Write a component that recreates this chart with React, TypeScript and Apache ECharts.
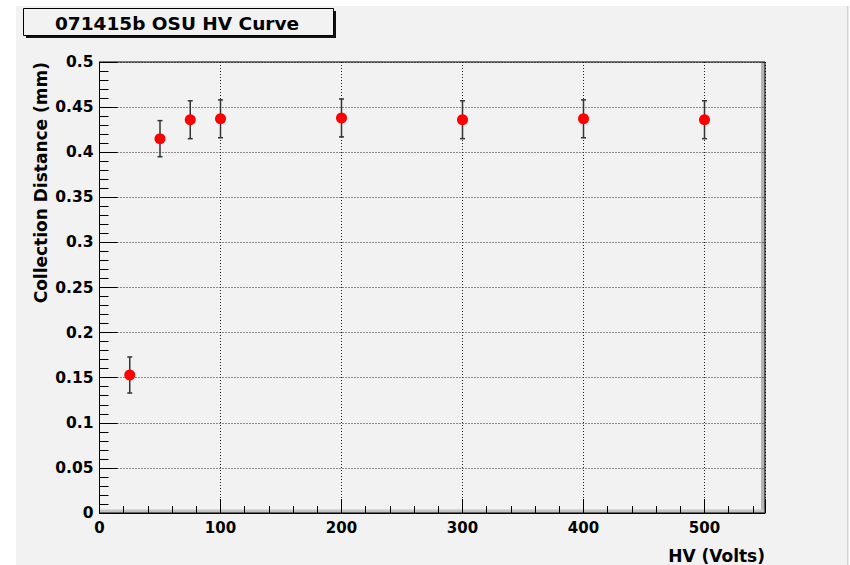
import React, { useEffect, useRef } from "react";
import * as echarts from "echarts";

// HV scan: collection distance vs. bias voltage
const hvVolts = [25, 50, 75, 100, 200, 300, 400, 500];
const collectionDist = [0.153, 0.415, 0.436, 0.437, 0.438, 0.436, 0.437, 0.436];
const distErr = [0.02, 0.02, 0.021, 0.021, 0.021, 0.021, 0.021, 0.021];

const titleText = "071415b OSU HV Curve";
const xTitle = "HV (Volts)";
const yTitle = "Collection Distance (mm)";

const FONT = "DejaVu Sans";
const W = 850;
const H = 565;
const G = { left: 99.5, top: 62, right: 85, bottom: 52 };

export default function App() {
  const ref = useRef<HTMLDivElement>(null);

  useEffect(() => {
    if (!ref.current) return;
    const chart = echarts.init(ref.current, null, { renderer: "svg" });

    const pts = hvVolts.map((x, i) => [x, collectionDist[i]]);
    const bars = hvVolts.map((x, i) => [x, collectionDist[i] - distErr[i], collectionDist[i] + distErr[i]]);

    const plotW = W - G.left - G.right;
    const plotH = H - G.top - G.bottom;

    chart.setOption({
      animation: false,
      backgroundColor: "#ffffff",
      grid: {
        left: G.left,
        top: G.top,
        right: G.right,
        bottom: G.bottom,
        show: true,
        borderColor: "#000",
        borderWidth: 1,
        backgroundColor: "transparent",
        z: 3,
      },
      graphic: [
        // canvas background
        { type: "rect", z: -20, shape: { x: 16, y: 6, width: 831, height: 559 }, style: { fill: "#f2f2f2" } },
        { type: "rect", z: -20, shape: { x: 847, y: 6, width: 1.5, height: 559 }, style: { fill: "#d4d4d4" } },
        // frame shading on the right and bottom edges
        { type: "rect", z: -5, shape: { x: G.left + plotW - 4, y: G.top, width: 4, height: plotH }, style: { fill: "#b4b4b4" } },
        { type: "rect", z: -5, shape: { x: G.left, y: G.top + plotH - 3.5, width: plotW, height: 3.5 }, style: { fill: "#c4c4c4" } },
        // title box with drop shadow
        { type: "rect", z: 10, shape: { x: 26, y: 11, width: 310, height: 27 }, style: { fill: "#111" } },
        { type: "rect", z: 11, shape: { x: 23.5, y: 8.5, width: 310, height: 27 }, style: { fill: "#f2f2f2", stroke: "#000", lineWidth: 1 } },
        {
          type: "text",
          z: 12,
          x: 177,
          y: 23,
          style: {
            text: titleText,
            font: `bold 18.5px "${FONT}"`,
            fill: "#000",
            align: "center",
            verticalAlign: "middle",
          },
        },
        // y axis title, rotated, aligned to the top of the axis
        {
          type: "text",
          z: 12,
          x: 40.5,
          y: G.top,
          rotation: Math.PI / 2,
          style: {
            text: yTitle,
            font: `bold 17px "${FONT}"`,
            fill: "#000",
            align: "right",
            verticalAlign: "middle",
          },
        },
      ],
      xAxis: {
        type: "value",
        min: 0,
        max: 550,
        interval: 100,
        name: xTitle,
        nameLocation: "end",
        nameGap: 0,
        nameTextStyle: {
          fontFamily: FONT,
          fontWeight: "bold",
          fontSize: 17,
          color: "#000",
          align: "right",
          verticalAlign: "top",
          padding: [34, 0, 0, 0],
        },
        axisLine: { show: true, lineStyle: { color: "#000", width: 1 } },
        axisTick: { show: true, inside: true, length: 14, lineStyle: { color: "#000", width: 1 } },
        minorTick: { show: true, splitNumber: 5, length: 7, lineStyle: { color: "#000", width: 1 } },
        axisLabel: {
          fontFamily: FONT,
          fontWeight: "bold",
          fontSize: 15,
          color: "#000",
          margin: 7,
          showMaxLabel: false,
          formatter: (v: number) => (v > 500 ? "" : String(v)),
        },
        splitLine: { show: true, lineStyle: { color: "#222", width: 1, type: [1, 2] } },
      },
      yAxis: {
        type: "value",
        min: 0,
        max: 0.5,
        interval: 0.05,
        axisLine: { show: true, lineStyle: { color: "#000", width: 1 } },
        axisTick: { show: true, inside: true, length: 18, lineStyle: { color: "#000", width: 1 } },
        minorTick: { show: true, splitNumber: 5, length: 9, lineStyle: { color: "#000", width: 1 } },
        axisLabel: {
          fontFamily: FONT,
          fontWeight: "bold",
          fontSize: 15.5,
          color: "#000",
          margin: 6,
          formatter: (v: number) => String(Math.round(v * 100) / 100),
        },
        splitLine: { show: true, lineStyle: { color: "#222", width: 1, type: [1, 2] } },
      },
      series: [
        {
          type: "custom",
          z: 4,
          data: bars,
          renderItem: (params: any, api: any) => {
            const x = api.value(0);
            const lo = api.coord([x, api.value(1)]);
            const hi = api.coord([x, api.value(2)]);
            const cap = 2.5;
            const st = { stroke: "#333", lineWidth: 1.5 };
            return {
              type: "group",
              children: [
                { type: "line", shape: { x1: lo[0], y1: lo[1], x2: hi[0], y2: hi[1] }, style: st },
                { type: "line", shape: { x1: lo[0] - cap, y1: lo[1], x2: lo[0] + cap, y2: lo[1] }, style: st },
                { type: "line", shape: { x1: hi[0] - cap, y1: hi[1], x2: hi[0] + cap, y2: hi[1] }, style: st },
              ],
            };
          },
        },
        {
          type: "scatter",
          z: 5,
          data: pts,
          symbol: "circle",
          symbolSize: 11,
          itemStyle: { color: "#ff0000", opacity: 1 },
        },
      ],
    });

    return () => chart.dispose();
  }, []);

  return (
    <div
      ref={ref}
      style={{ position: "fixed", left: 0, top: 0, width: W, height: H }}
    />
  );
}
